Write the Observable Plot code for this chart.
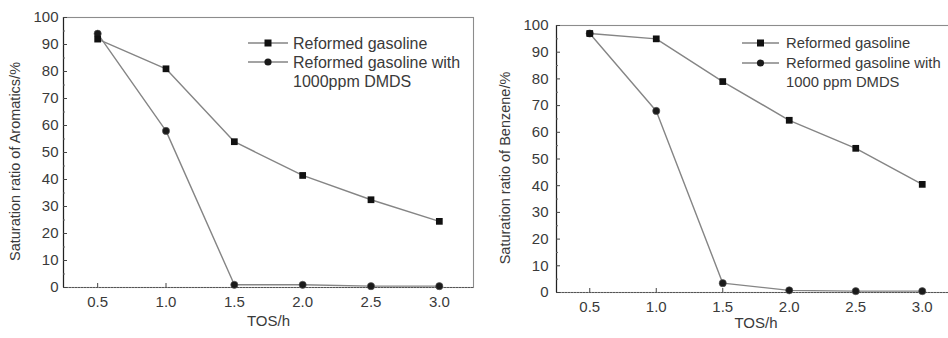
<!DOCTYPE html>
<html>
<head>
<meta charset="utf-8">
<script src="https://cdn.jsdelivr.net/npm/d3@7"></script>
<script src="https://cdn.jsdelivr.net/npm/@observablehq/plot@0.6"></script>
<style>
  html, body { margin: 0; padding: 0; background: #fff; }
  #wrap { position: relative; width: 948px; height: 338px; overflow: hidden; font-family: "Liberation Sans", Arial, sans-serif; }
  .panel { position: absolute; top: 0; }
</style>
</head>
<body>
<div id="wrap"></div>
<script>
// ---- data ----
const tos = [0.5, 1.0, 1.5, 2.0, 2.5, 3.0];
const xTicks = [0.5, 1.0, 1.5, 2.0, 2.5, 3.0];
const yTicks = [0, 10, 20, 30, 40, 50, 60, 70, 80, 90, 100];
const yMinor = [5, 15, 25, 35, 45, 55, 65, 75, 85, 95];
const aromReformed = [92, 81, 54, 41.5, 32.5, 24.5];
const aromDMDS = [94, 58, 1, 1, 0.5, 0.5];
const benzReformed = [97, 95, 79, 64.5, 54, 40.5];
const benzDMDS = [97, 68, 3.5, 0.8, 0.5, 0.5];
const leftLegend = ["Reformed gasoline", "Reformed gasoline with", "1000ppm DMDS"];
const rightLegend = ["Reformed gasoline", "Reformed gasoline with", "1000 ppm DMDS"];

const FONT = "Liberation Sans, Arial, sans-serif";
const TXT = "#3a3a3a";
const LINE = "#858585";

function panel(o) {
  const rows = tos.map((t, i) => ({t, r: o.reformed[i], d: o.dmds[i]}));
  const H = 338 - o.marginTop - o.marginBottom;
  const W = o.width - o.marginLeft - o.marginRight;
  return Plot.plot({
    width: o.width,
    height: 338,
    marginLeft: o.marginLeft,
    marginRight: o.marginRight,
    marginTop: o.marginTop,
    marginBottom: o.marginBottom,
    style: {fontFamily: FONT, fontSize: "14.5px", color: TXT, background: "transparent", overflow: "visible"},
    x: {domain: [0.25, 3.25]},
    y: {domain: [0, 100]},
    marks: [
      Plot.frame({stroke: "#8c8c8c", strokeWidth: 1.1}),
      Plot.ruleX([0.25], {stroke: "#222", strokeWidth: 1.2}),
      Plot.ruleY([0], {stroke: "#555", strokeWidth: 1.1, strokeDasharray: "2,1"}),
      Plot.ruleX(xTicks, {x: d => d, insetTop: H - 4, stroke: "#444"}),
      Plot.ruleY(yTicks, {y: d => d, insetRight: W - 4, stroke: "#444"}),
      Plot.ruleY(yMinor, {y: d => d, insetRight: W - 2, stroke: "#666"}),
      Plot.axisX({ticks: xTicks, tickFormat: d3.format(".1f"), tickSize: 0, tickPadding: 9, label: null, fill: TXT, fontSize: 15}),
      Plot.axisY({ticks: yTicks, tickSize: 0, tickPadding: o.yPad, label: null, fill: TXT, fontSize: 15}),
      Plot.text(["TOS/h"], {frameAnchor: "bottom", dy: o.xLabelDy, fill: TXT, fontSize: 15}),
      Plot.text([o.ylabel], {frameAnchor: "left", textAnchor: "middle", rotate: -90, dx: o.yLabelDx, dy: 9, fill: TXT, fontSize: 14.5}),
      Plot.line(rows, {x: "t", y: "d", stroke: LINE, strokeWidth: 1.4}),
      Plot.line(rows, {x: "t", y: "r", stroke: LINE, strokeWidth: 1.4}),
      Plot.dot(rows, {x: "t", y: "d", symbol: "circle", r: 3.6, fill: "#1a1a1a", stroke: "#555", strokeWidth: 0.6}),
      Plot.dot(rows, {x: "t", y: "r", symbol: "square", r: 3.8, fill: "#111"})
    ]
  });
}

function legend(labels, lineX0, lineX1, textX, rowsY, fontSize) {
  const svg = d3.create("svg").attr("width", 948).attr("height", 338)
    .style("position", "absolute").style("left", "0px").style("top", "0px")
    .style("font-family", FONT).style("font-size", fontSize + "px");
  const mid = (lineX0 + lineX1) / 2;
  [0, 1].forEach(i => {
    const y = rowsY[i];
    svg.append("line").attr("x1", lineX0).attr("x2", lineX1).attr("y1", y).attr("y2", y)
      .attr("stroke", LINE).attr("stroke-width", 1.4);
    if (i === 0) svg.append("rect").attr("x", mid - 3.5).attr("y", y - 3.5).attr("width", 7).attr("height", 7).attr("fill", "#111");
    else svg.append("circle").attr("cx", mid).attr("cy", y).attr("r", 3.6).attr("fill", "#1a1a1a");
  });
  labels.forEach((t, i) => {
    svg.append("text").attr("x", textX).attr("y", rowsY[i]).attr("dy", "0.35em")
      .attr("fill", TXT).text(t);
  });
  return svg.node();
}

const wrap = document.getElementById("wrap");

const left = panel({
  width: 480, marginLeft: 63, marginRight: 7, marginTop: 17, marginBottom: 51,
  reformed: aromReformed, dmds: aromDMDS, ylabel: "Saturation ratio of Aromatics/%",
  yPad: 5, xLabelDy: 38, yLabelDx: -48
});
left.classList.add("panel");
left.style.left = "0px";
wrap.appendChild(left);

const right = panel({
  width: 482, marginLeft: 76, marginRight: 7, marginTop: 25, marginBottom: 46,
  reformed: benzReformed, dmds: benzDMDS, ylabel: "Saturation ratio of Benzene/%",
  yPad: 8, xLabelDy: 35, yLabelDx: -51
});
right.classList.add("panel");
right.style.left = "480px";
wrap.appendChild(right);

wrap.appendChild(legend(leftLegend, 248, 288, 293, [43, 62, 81], 16));
wrap.appendChild(legend(rightLegend, 742, 779, 786, [43, 63, 82], 14.8));
</script>
</body>
</html>
